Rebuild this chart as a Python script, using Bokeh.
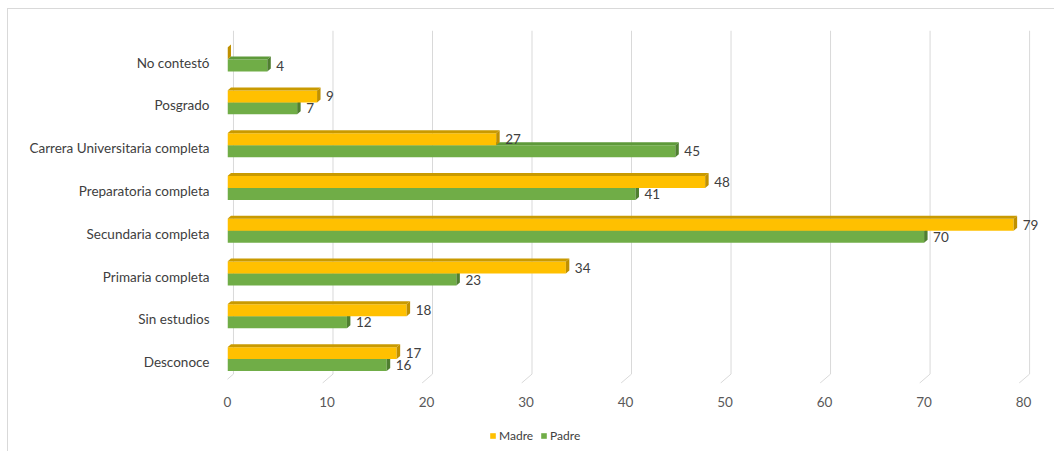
from bokeh.plotting import figure
from bokeh.layouts import column, row
from bokeh.models import FixedTicker, Legend, LegendItem, Range1d, Spacer
from bokeh.embed import file_html
from bokeh.resources import INLINE
from bokeh.core.properties import value

# ---- data ----
categories = ["Desconoce", "Sin estudios", "Primaria completa", "Secundaria completa",
              "Preparatoria completa", "Carrera Universitaria completa", "Posgrado", "No contestó"]
madre = [17, 18, 34, 79, 48, 27, 9, 0]
padre = [16, 12, 23, 70, 41, 45, 7, 4]
x_ticks = [0, 10, 20, 30, 40, 50, 60, 70, 80]
series_names = ["Madre", "Padre"]
series_colors = {"Madre": "#FFC000", "Padre": "#70AD47"}

# ---- style ----
FONT = "Lato"
DX = 0.35     # 3D depth along x (data units)
DY = 0.07     # 3D depth along y (category units)
H = 0.28      # bar thickness
GX = 0.6      # grid 3D shift
BORDER = "1px solid #D9D9D9"

p = figure(width=1047, height=406, output_backend="svg", toolbar_location=None,
           x_range=Range1d(0, 82.3), y_range=Range1d(-0.5, 7.75),
           min_border_left=219, min_border_right=9, min_border_top=21, min_border_bottom=32)
p.outline_line_color = None
p.xgrid.visible = False
p.ygrid.visible = False
p.styles = {"border-top": BORDER, "border-left": BORDER}

# gridlines (3D style)
top_y = 7.75
p.segment(x0=[t + GX for t in x_ticks], y0=[-0.28] * len(x_ticks),
          x1=[t + GX for t in x_ticks], y1=[top_y] * len(x_ticks),
          line_color="#D9D9D9", line_width=1)
p.segment(x0=[t + GX for t in x_ticks], y0=[-0.28] * len(x_ticks),
          x1=[t - 0.45 for t in x_ticks], y1=[-0.49] * len(x_ticks),
          line_color="#D9D9D9", line_width=1)

ypos = list(range(len(categories)))
specs = [
    ("Padre", padre, -0.07, "#5E9A3A", "#4F7F30"),
    ("Madre", madre, 0.21, "#C99A00", "#BF9000"),
]
for name, vals, off, rim, side in specs:
    yc = [y + off for y in ypos]
    top = [y + H / 2 for y in yc]
    bot = [y - H / 2 for y in yc]
    p.hbar(y=yc, left=0, right=vals, height=H, fill_color=series_colors[name], line_color=None)
    p.patches(xs=[[0, v, v + DX, DX] for v in vals],
              ys=[[t, t, t + DY, t + DY] for t in top],
              fill_color=rim, line_color=None)
    p.patches(xs=[[v, v + DX, v + DX, v] for v in vals],
              ys=[[b, b + DY, t + DY, t] for b, t in zip(bot, top)],
              fill_color=side, line_color=None)
    lx = [v for v in vals if v > 0]
    ly = [y for v, y in zip(vals, yc) if v > 0]
    p.text(x=lx, y=ly, text=[str(v) for v in lx], x_offset=9,
           text_font=value(FONT), text_font_size="13.5px", text_color="#404040",
           text_align="left", text_baseline="middle")

# axes
p.xaxis.ticker = FixedTicker(ticks=x_ticks)
p.xaxis.axis_line_color = None
p.xaxis.major_tick_line_color = None
p.xaxis.minor_tick_line_color = None
p.xaxis.major_label_standoff = 7
p.xaxis.major_label_text_font = FONT
p.xaxis.major_label_text_font_size = "13.5px"
p.xaxis.major_label_text_color = "#595959"

p.yaxis.ticker = FixedTicker(ticks=ypos)
p.yaxis.major_label_overrides = {i: c for i, c in enumerate(categories)}
p.yaxis.axis_line_color = None
p.yaxis.major_tick_line_color = None
p.yaxis.minor_tick_line_color = None
p.yaxis.major_label_standoff = 12
p.yaxis.major_label_text_font = FONT
p.yaxis.major_label_text_font_size = "13.5px"
p.yaxis.major_label_text_color = "#404040"

# ---- legend strip ----
lg = figure(width=1047, height=37, output_backend="svg", toolbar_location=None,
            x_range=Range1d(0, 1), y_range=Range1d(0, 1),
            x_axis_location=None, y_axis_location=None,
            min_border_left=0, min_border_right=0, min_border_top=0, min_border_bottom=0)
lg.outline_line_color = None
lg.xgrid.visible = False
lg.ygrid.visible = False
lg.styles = {"border-left": BORDER}
items = []
for n in series_names:
    # legend-only renderer, kept outside the visible range
    r = lg.hbar(y=[-5], left=[0], right=[1], height=0.1, fill_color=series_colors[n], line_color=None)
    items.append(LegendItem(label=n, renderers=[r]))
legend = Legend(items=items, orientation="horizontal", location=(262, 8),
                glyph_width=7, glyph_height=7, label_height=13, label_standoff=3,
                spacing=7, padding=0, margin=0,
                label_text_font=FONT, label_text_font_size="12px", label_text_color="#404040",
                border_line_color=None, background_fill_alpha=0)
lg.add_layout(legend, "center")

layout = column(Spacer(height=8),
                row(Spacer(width=7), column(p, lg, spacing=0), spacing=0),
                spacing=0)

open("out.html", "w").write(file_html(layout, INLINE))
